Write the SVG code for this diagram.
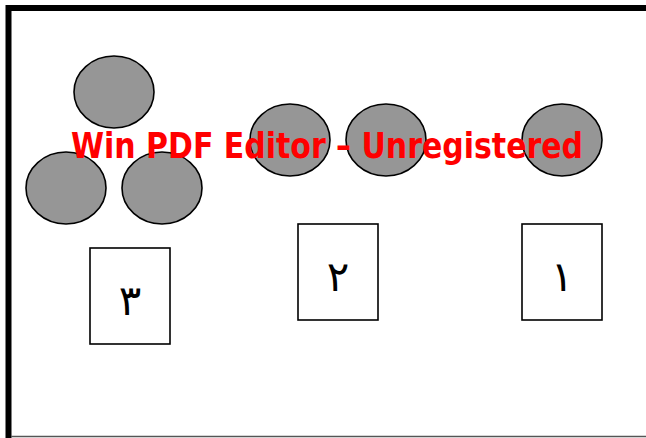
<svg xmlns="http://www.w3.org/2000/svg" width="646" height="438" viewBox="0 0 646 438">
<style>
.c{fill:#969696;stroke:#000;stroke-width:1.6}
.b{fill:#fff;stroke:#000;stroke-width:1.6}
.d{font-family:"DejaVu Serif","DejaVu Sans",serif;font-size:42px;text-anchor:middle;fill:#000}
.w{font-family:"DejaVu Sans",Tahoma,sans-serif;font-weight:bold;font-size:35px;fill:#f00}
</style>
<rect width="646" height="438" fill="#fff"/>
<g id="frame">
<path d="M8.5 438 V8 H646" fill="none" stroke="#000" stroke-width="6"/>
<line x1="11" y1="436.5" x2="646" y2="436.5" stroke="#555" stroke-width="1.5"/>
</g>
<g id="circle-top"><ellipse class="c" cx="114" cy="92" rx="40" ry="36"/></g>
<g id="circle-left"><ellipse class="c" cx="66" cy="188" rx="40" ry="36"/></g>
<g id="circle-right"><ellipse class="c" cx="162" cy="188" rx="40" ry="36"/></g>
<g id="circle-2a"><ellipse class="c" cx="290" cy="140" rx="40" ry="36"/></g>
<g id="circle-2b"><ellipse class="c" cx="386" cy="140" rx="40" ry="36"/></g>
<g id="circle-1"><ellipse class="c" cx="562" cy="140" rx="40" ry="36"/></g>
<g id="box3"><rect class="b" x="90" y="248" width="80" height="96"/><text class="d" x="130" y="315">٣</text></g>
<g id="box2"><rect class="b" x="298" y="224" width="80" height="96"/><text class="d" x="338" y="291">٢</text></g>
<g id="box1"><rect class="b" x="522" y="224" width="80" height="96"/><text class="d" x="562" y="291">١</text></g>
<g id="connectors"/>
<text class="w" x="71" y="158" textLength="512" lengthAdjust="spacingAndGlyphs">Win PDF Editor – Unregistered</text>
</svg>
